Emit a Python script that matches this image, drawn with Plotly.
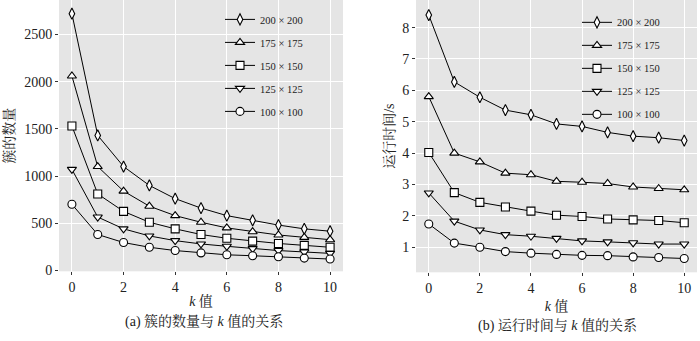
import plotly.graph_objects as go

k_values = list(range(11))
series_names = ["200 × 200", "175 × 175", "150 × 150", "125 × 125", "100 × 100"]
marker_symbols = ["diamond-tall", "triangle-up", "square", "triangle-down", "circle"]

cluster_200 = [2720, 1430, 1100, 900, 760, 660, 580, 530, 480, 440, 415]
cluster_175 = [2060, 1100, 840, 680, 580, 510, 450, 410, 375, 350, 325]
cluster_150 = [1530, 810, 625, 510, 440, 380, 340, 310, 285, 265, 245]
cluster_125 = [1070, 565, 440, 365, 315, 280, 255, 230, 210, 195, 180]
cluster_100 = [700, 380, 295, 245, 210, 185, 165, 155, 145, 130, 120]

time_200 = [8.40, 6.27, 5.78, 5.37, 5.22, 4.93, 4.85, 4.66, 4.54, 4.49, 4.40]
time_175 = [5.80, 4.00, 3.72, 3.36, 3.31, 3.10, 3.07, 3.03, 2.92, 2.87, 2.83]
time_150 = [4.02, 2.74, 2.43, 2.28, 2.15, 2.02, 1.98, 1.90, 1.87, 1.85, 1.78]
time_125 = [2.73, 1.83, 1.55, 1.40, 1.35, 1.28, 1.20, 1.17, 1.14, 1.10, 1.10]
time_100 = [1.74, 1.13, 1.00, 0.86, 0.81, 0.77, 0.74, 0.73, 0.69, 0.67, 0.64]

x_ticks = [0, 2, 4, 6, 8, 10]
left_y_ticks = [0, 500, 1000, 1500, 2000, 2500]
right_y_ticks = [1, 2, 3, 4, 5, 6, 7, 8]

cluster_series = [cluster_200, cluster_175, cluster_150, cluster_125, cluster_100]
time_series = [time_200, time_175, time_150, time_125, time_100]

FONT = "'Liberation Serif', 'Noto Serif CJK SC', 'Noto Sans CJK SC', serif"
BG = "#e5e5e5"

fig = go.Figure()

for i, (name, sym) in enumerate(zip(series_names, marker_symbols)):
    fig.add_trace(go.Scatter(
        x=k_values, y=cluster_series[i], mode="lines+markers", name=name,
        line=dict(color="black", width=1),
        marker=dict(symbol=sym, size=8, color="white",
                    line=dict(color="black", width=1.1)),
        xaxis="x", yaxis="y", legend="legend", legendgroup="a%d" % i,
    ))
for i, (name, sym) in enumerate(zip(series_names, marker_symbols)):
    fig.add_trace(go.Scatter(
        x=k_values, y=time_series[i], mode="lines+markers", name=name,
        line=dict(color="black", width=1),
        marker=dict(symbol=sym, size=8, color="white",
                    line=dict(color="black", width=1.1)),
        xaxis="x2", yaxis="y2", legend="legend2", legendgroup="b%d" % i,
    ))

axis_common = dict(showgrid=True, gridcolor="white", gridwidth=1.3, zeroline=False,
                   showline=False, ticks="outside", ticklen=3, tickcolor="#333",
                   tickfont=dict(family=FONT, size=14, color="#222"))

legend_common = dict(bgcolor="rgba(0,0,0,0)", font=dict(family=FONT, size=10.5, color="#222"),
                     tracegroupgap=4, traceorder="grouped", yanchor="top", xanchor="left",
                     itemwidth=30)

fig.update_layout(
    width=700, height=341,
    margin=dict(l=0, r=0, t=0, b=0),
    paper_bgcolor="white", plot_bgcolor=BG,
    font=dict(family=FONT, color="#222"),
    xaxis=dict(domain=[59/700, 343/700], range=[-0.5, 10.5], tickvals=x_ticks,
               title=dict(text="<i>k</i> 值", font=dict(family=FONT, size=14), standoff=2),
               anchor="y", **axis_common),
    yaxis=dict(domain=[(341-277)/341, 1], range=[-10, 2865], tickvals=left_y_ticks,
               title=dict(text="簇的数量", font=dict(family=FONT, size=14), standoff=6),
               anchor="x", **axis_common),
    xaxis2=dict(domain=[416/700, 697/700], range=[-0.5, 10.5], tickvals=x_ticks,
                title=dict(text="<i>k</i> 值", font=dict(family=FONT, size=14), standoff=6),
                anchor="y2", **axis_common),
    yaxis2=dict(domain=[(341-278)/341, 1], range=[0.2, 8.88], tickvals=right_y_ticks,
                title=dict(text="运行时间/s", font=dict(family=FONT, size=14), standoff=4),
                anchor="x2", **axis_common),
    legend=dict(x=220/700, y=1 - 5/341, **legend_common),
    legend2=dict(x=577/700, y=1 - 8/341, **legend_common),
    annotations=[
        dict(text="(a) 簇的数量与 <i>k</i> 值的关系", xref="paper", yref="paper",
             x=204/700, y=(341-328)/341, xanchor="center", yanchor="middle", showarrow=False,
             font=dict(family=FONT, size=14, color="#222")),
        dict(text="(b) 运行时间与 <i>k</i> 值的关系", xref="paper", yref="paper",
             x=557/700, y=(341-332)/341, xanchor="center", yanchor="middle", showarrow=False,
             font=dict(family=FONT, size=14, color="#222")),
    ],
)

fig.write_html("out.html", config={"displayModeBar": False},
               post_script="document.body.style.margin='0px';")
